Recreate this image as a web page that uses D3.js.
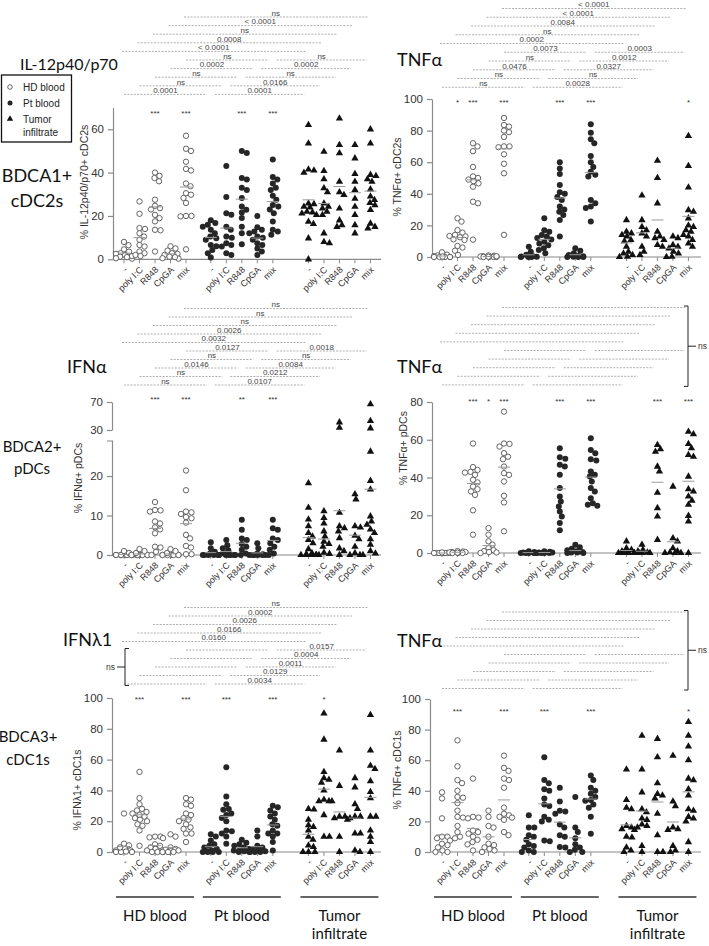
<!DOCTYPE html>
<html><head><meta charset="utf-8">
<script src="https://cdn.jsdelivr.net/npm/d3@7"></script>
<style>body{margin:0;background:#fff}svg{display:block}</style>
</head><body><svg id="c" width="709" height="946"></svg>
<script>
const treatments = ["-", "poly I:C", "R848", "CpGA", "mix"];
const groups = [["HD blood"], ["Pt blood"], ["Tumor", "infiltrate"]];

// ---- IL-12p40/p70 in BDCA1+ cDC2s ----
const il12HD = [[8,6.5,4.6,3.5,2.8,2.5,2,1.2,1,0.5,0.3,1.5],[26.7,21,14.4,14,12,10.5,9,6.6,5.9,3.6,2.8,2,1.5],[40,37.5,38.5,36,27.5,24.7,23.6,23,20.5,19,17.5,13.6,13.4,3.6],[6,5,4,2.8,2.5,2,1.2,0.5,0.3,1],[57,51,50,45,41.7,41,35,33.7,30.5,29.8,28.3,26,20,20,19.8,4.6]];
const il12Pt = [[18,16.7,16,15,13.6,12,10.5,9.7,9,6.6,6,4.3,2.8,0.8],[43,28.7,21.3,20.5,15,13.6,10.5,10,7.4,6.6,5.9,2.8,2],[50,49,37.5,36.8,33,32,28.3,24.4,22.9,21.6,19,15,12,7],[20,14.8,13.6,12.8,12,10.5,10,9,7.4,6.6,5,3.6,2],[46,38,36.8,35,33,32,29.3,27.5,25,24.4,23,21.3,17.5,13.6,12.8,11.3]];
const il12Tu = [[62,53.5,41.5,41,40,25.8,25.5,24.3,24,22,21.7,21.2,20.5,17.4,16.3,9.7,0],[49.7,40.8,37,32.8,31,25.8,24.3,23.5,22,20.5,12,8,7.4],[65,52.8,49,35.8,31,29.7,23.5,18,15.8,15],[52.8,46.6,39.4,35.8,32,28,24.3,20.5,15.8,12],[60,53.5,39,38.5,37,35.8,32.3,29,27.4,26,25,22.8,15,14.3,16.5]];
const il12Ticks = [0, 20, 40, 60];
const il12Stars = [["","","***","","***"],["","","***","","***"],["","","","",""]];
const il12Long = ["ns","< 0.0001","ns","0.0008","< 0.0001"];
const il12PairL = ["ns","0.0002","ns","ns","0.0001"];
const il12PairR = ["ns","0.0002","ns","0.0166","0.0001"];

// ---- TNFa in BDCA1+ cDC2s ----
const tnf1HD = [[3,1.5,1,0.5,0,0,0,0,0,0.3],[24.5,22.4,17,15.4,14,13.3,13,12.5,11.2,10.8,7,6,4,1.3],[72,70,67,57,51,50,49,48,46.6,44.5,35,34,11],[1,0.8,0.5,0.3,0,0,0,0,0.5,0.2],[88,83.5,82.5,80,79,76,70,70,69.5,65,59,53,14]];
const tnf1Pt = [[6.5,3.4,1.5,0.5,0.3,0,0,0,0.2],[24.5,17,16,14,13,12,11,9.7,8.5,7.5,5.5,4.4,2.3],[60,56,52.5,45.5,41,40,38,36,32,30,28.7,26.6,23.4,12.9],[5.5,4,2.3,1.3,0.6,0.2,0,0,0,0.4],[84,78.7,74.5,72,64,60,57,54,52,51,36,34,32,31,22.4]];
const tnf1Tu = [[23.4,16,15,14,13,10.8,10,6.5,3.4,2.3,1.3,0.2,0],[39,23.4,19,17,15,13,6.5,3.4,1.3],[61,50,34,16,13,12,10.8,7.6,6.5],[13,12,7.6,6.5,5.4,3.4,2.3,0.2,0],[76.6,57.6,44,29.7,28.7,24.5,20,19,17,16,14,13,10.8,8.6,6.5]];
const tnf1Ticks = [0, 20, 40, 60, 80, 100];
const tnf1Stars = [["","*","***","","***"],["","","***","","***"],["","","","","*"]];
const tnf1Long = ["< 0.0001","< 0.0001","0.0084","ns","0.0002"];
const tnf1PairL = ["0.0073","ns","0.0476","ns","ns"];
const tnf1PairR = ["0.0003","0.0012","0.0327","ns","0.0028"];

// ---- IFNa in BDCA2+ pDCs ----
const ifnaHD = [[0,0,0,0,0,0,0,0,0.5,1],[0,0,0,0,0,0,0,0,0.5,1,1.5],[13.4,11.4,11.3,11,8.5,8,7,6.5,5.5,2.1,1.9,0.8,0],[0,0,0,0,0,0,0,0.5,1,1.5],[21.4,16.4,11,10.8,10.4,9.6,9.3,8.2,5.1,4.2,2.3,1.9,0.2,0.2]];
const ifnaPt = [[3.2,1.7,0.8,0,0,0,0,0,0,0.3],[3.8,2.5,1.7,1.2,0.4,0,0,0,0,0,0],[8.9,6.4,4.2,3.8,2.8,2.1,1.3,0.4,0,0],[3,1.7,0.4,0,0,0,0,0,0,0.2],[8.9,6.8,6.4,4.2,3.8,3,2.1,1.3,0.4,0]];
const ifnaTu = [[18.2,12,9,7.3,5.6,4.7,3.8,3,1.5,0.5,0.2,0,0,0,0],[11.1,9.4,8,6,4.7,3.4,2.8,2.1,0.6,0.3,0,0],[41,33.3,10.7,7.3,6.8,6,4.3,1.7,1,0],[15.4,14.1,7.3,7,4.9,4,2.1,0.5,0,0,0],[67,42.9,32.4,26.2,18.8,16.6,9.8,8.5,7.7,6.5,5.6,4,2.6,1,0.4]];
const ifnaTicksLow = [0, 10, 20];
const ifnaTicksHigh = [30, 70];
const ifnaStars = [["","","***","","***"],["","","**","","***"],["","","","",""]];
const ifnaLong = ["ns","ns","ns","0.0026","0.0032"];
const ifnaPairL = ["0.0127","ns","0.0146","ns","ns"];
const ifnaPairR = ["0.0018","ns","0.0084","0.0212","0.0107"];

// ---- TNFa in BDCA2+ pDCs ----
const tnf2HD = [[0,0,0,0,0,0,0,0.3],[1,0.8,0.5,0.5,0.3,0,0,0,0.2],[58,45.5,44,43,42.6,41.4,38.8,37.4,35.2,33.8,32.6,30.8,22.6,9.7],[13.2,9.7,6.2,4.4,2.6,1.5,1,0.5,0.3,0],[74.9,58,57.8,56.4,52.9,51,49.7,45.8,42.3,41.4,37.9,30.3,26.8,11.5]];
const tnf2Pt = [[0.9,0.5,0.3,0,0,0,0,0],[0.9,0.6,0.3,0,0,0,0,0.2],[55.5,50.7,50,46.7,45.8,41.4,34.4,30,27.3,24.7,22,19.4,15.9,12],[4.4,3,2.2,1.4,0.9,0.5,0.3,0,0,0.2],[60.8,54.6,52.9,49.7,49,43.2,41.4,40.5,37.9,34.4,32.6,29,26.4,25.6,25]];
const tnf2Tu = [[6.2,2.6,1.7,0.9,0.3,0,0,0,0],[4.4,1.7,0.9,0.3,0,0,0,0],[57.3,55,53.7,45.8,43.2,32,23.8,19.4,7],[35.2,7.9,6.2,2.6,1,0.3,0,0,0],[64.3,63,57.8,55.5,52,51,40.5,33.8,32.6,30,27.8,25.6,19.7,16.7,0]];
const tnf2Ticks = [0, 20, 40, 60, 80];
const tnf2Stars = [["","","***","*","***"],["","","***","","***"],["","","***","","***"]];

// ---- IFNl1 in BDCA3+ cDC1s ----
const ifnlHD = [[25,5.4,4.3,2,1,1,0.5,0,0,0,0.3,3],[52,35,31,28,27,26,25,24,23,22,21,20,18,17,14,4],[10,10,9.5,9,5,4,3,2,1,1,0,0,0],[11.5,10,3,2,1.5,1,0.5,0,0,0],[35,34,31,30,25,24,22,21,20,18,16,15,12,12,6.5]];
const ifnlPt = [[11.5,10,7.5,5,4,3,2,1,0.5,0,0,0,0],[55,36,31,28,27.5,25,24,22,20,14,13.5,12,10,5.4],[8,6,5,4,3,2,1,1,0.5,0,0],[14,10,4,3,2,1,0.5,0,0,0],[30,29,27,25,23,21,18,17,14,12,12,10,6.5,1]];
const ifnlTu = [[28,27.6,21,17.4,16.3,14,10,8,4.3,3.3,0,0,0],[90,73,52,48,47,45,40,34,33,33,33,24,10,10],[66,43,23,23,22,21,10,0],[48,42,31,28,23,23,22,12,12,1,0],[89,66,56,54,46,39,35,23,23,14,10,6.5,0]];
const ifnlTicks = [0, 20, 40, 60, 80, 100];
const ifnlStars = [["","***","","","***"],["","***","","","***"],["","*","","",""]];
const ifnlLong = ["ns","0.0002","0.0026","0.0166","0.0160"];
const ifnlPairL = ["","","","",""];
const ifnlPairR = ["0.0157","0.0004","0.0011","0.0129","0.0034"];

// ---- TNFa in BDCA3+ cDC1s ----
const tnf3HD = [[39,35,22,10,10,9,7.5,5.4,4.5,3,1,0,0],[73,56,47,45,40,36,35.5,32,27,23,22.5,17,13,10,9],[48,23,22.5,22,14,13,12,10,8,6.5,5,1],[27,23,17,16,10,5.4,4.5,3,2,1,0],[63,55,53,48,47,42,29,25,24,23,22.5,21,13,11]];
const tnf3Pt = [[24,16,16,11,10,8,5,4,3,1,0,0],[62,47,45,41,40,35,31,30,23,21,20,7.5,7],[42,33,27,26.5,25,18,16,11,10,3,3.3],[36,16,13,9,5,3,1.5,0,0],[50,47,42,40,38,36,34,33.5,31,29,23,12]];
const tnf3Tu = [[54,34,29,28,17,16,15,14.5,10,9.5,3,1,0],[76,54,39,28,26,22,21,18,17,16,4,0],[74,62,45,38,37,35,25,11,0,0],[63,33,30,16,15,14.5,4,1,0],[85,76,69,60,48,47,41,37,28,27,23,22,20,6.5,0]];
const tnf3Ticks = [0, 20, 40, 60, 80, 100];
const tnf3Stars = [["","***","","","***"],["","***","","","***"],["","","","","*"]];

const blank5 = ["","","","",""];

// ================= drawing =================
const svg = d3.select("#c");
const FONT = "'Liberation Sans', Arial, sans-serif";
const TFONT = "Lato, 'Open Sans', sans-serif";
const colPos = [[0,1,2,3,4],[5.6,6.6,7.6,8.6,9.6],[11.9,12.9,13.9,14.9,15.9]];

const ifnaLow = d3.scaleLinear().domain([0, 29]).range([555, 440.5]);
const ifnaHigh = d3.scaleLinear().domain([30, 70]).range([430, 402]);

const panels = [
  {data:[il12HD, il12Pt, il12Tu], x0:124, axisX:113, axisEnd:381, yBase:259.3,
   scales:[{s:d3.scaleLinear().domain([0,70]).range([259.3,107.6]), ticks:il12Ticks, outer:0}],
   stars:il12Stars, starY:111, rowTop:17, rowStep:8.6,
   long:il12Long, pairL:il12PairL, pairR:il12PairR, bracket:null,
   title:{t:"IL-12p40/p70", x:20, y:70, size:16},
   ylab:{t:"% IL-12p40/p70+ cDC2s", x:88, y:182}},
  {data:[tnf1HD, tnf1Pt, tnf1Tu], x0:442, axisX:432, axisEnd:701, yBase:257,
   scales:[{s:d3.scaleLinear().domain([0,100]).range([257,99]), ticks:tnf1Ticks, outer:0}],
   stars:tnf1Stars, starY:100, rowTop:8.5, rowStep:8.75,
   long:tnf1Long, pairL:tnf1PairL, pairR:tnf1PairR, bracket:null,
   title:{t:"TNFα", x:397, y:66, size:18},
   ylab:{t:"% TNFα+ cDC2s", x:401, y:177}},
  {data:[ifnaHD, ifnaPt, ifnaTu], x0:124, axisX:112, axisEnd:381, yBase:555,
   scales:[{s:ifnaLow, ticks:ifnaTicksLow, outer:5}, {s:ifnaHigh, ticks:ifnaTicksHigh, outer:0}],
   yfun: v => v <= 29 ? ifnaLow(v) : ifnaHigh(v),
   stars:ifnaStars, starY:397, rowTop:308.5, rowStep:8.5,
   long:ifnaLong, pairL:ifnaPairL, pairR:ifnaPairR, bracket:null,
   title:{t:"IFNα", x:67, y:373, size:18},
   ylab:{t:"% IFNα+ pDCs", x:82, y:478}},
  {data:[tnf2HD, tnf2Pt, tnf2Tu], x0:442, axisX:432, axisEnd:701, yBase:553,
   scales:[{s:d3.scaleLinear().domain([0,80]).range([553,402]), ticks:tnf2Ticks, outer:0}],
   stars:tnf2Stars, starY:399, rowTop:307.5, rowStep:8.6,
   long:blank5, pairL:blank5, pairR:blank5, bracket:{side:"R", x:688, from:0, to:9},
   title:{t:"TNFα", x:397, y:373, size:18},
   ylab:{t:"% TNFα+ pDCs", x:407, y:448}},
  {data:[ifnlHD, ifnlPt, ifnlTu], x0:124, axisX:112, axisEnd:381, yBase:852,
   scales:[{s:d3.scaleLinear().domain([0,100]).range([852,698]), ticks:ifnlTicks, outer:0}],
   stars:ifnlStars, starY:697, rowTop:607.5, rowStep:8.5,
   long:ifnlLong, pairL:ifnlPairL, pairR:ifnlPairR, bracket:{side:"L", x:125, from:5, to:9},
   title:{t:"IFNλ1", x:63, y:646, size:18},
   ylab:{t:"% IFNλ1+ cDC1s", x:81, y:790}},
  {data:[tnf3HD, tnf3Pt, tnf3Tu], x0:442, axisX:430, axisEnd:701, yBase:852,
   scales:[{s:d3.scaleLinear().domain([0,100]).range([852,699]), ticks:tnf3Ticks, outer:0}],
   stars:tnf3Stars, starY:709, rowTop:612, rowStep:8.5,
   long:blank5, pairL:blank5, pairR:blank5, bracket:{side:"R", x:688, from:0, to:9},
   title:{t:"TNFα", x:397, y:647, size:18},
   ylab:{t:"% TNFα+ cDC1s", x:401, y:770}}
];

function swarm(vals, yf, r, maxOff) {
  const pts = vals.map(v => ({v, y: yf(v), dx: 0}));
  const order = pts.slice().sort((a, b) => b.v - a.v);
  const placed = [];
  const cands = [0];
  for (let s = 0.5; s <= maxOff; s += 0.5) cands.push(s, -s);
  for (const p of order) {
    let best = 0, bestCost = Infinity;
    for (const c of cands) {
      let cost = Math.abs(c) * 0.02;
      for (const q of placed) {
        const d = Math.hypot(c - q.dx, p.y - q.y);
        if (d < 2 * r) cost += 2 * r - d;
      }
      if (cost < bestCost - 1e-9) { bestCost = cost; best = c; }
    }
    p.dx = best; placed.push(p);
  }
  return pts;
}

const tri = d3.symbol().type(d3.symbolTriangle).size(23);

panels.forEach((P, pi) => {
  const g = svg.append("g");
  const yf = P.yfun || P.scales[0].s;
  const xs = d3.scaleLinear().domain([0, 15.9]).range([P.x0, P.x0 + 15.9 * 15.5]);
  const colX = (gi, ti) => xs(colPos[gi][ti]);

  // y axes
  P.scales.forEach(sc => {
    const ax = g.append("g").attr("transform", `translate(${P.axisX},0)`)
      .call(d3.axisLeft(sc.s).tickValues(sc.ticks).tickSize(5).tickSizeOuter(sc.outer).tickPadding(4).tickFormat(d3.format("d")));
    ax.select(".domain").attr("stroke", "#8a8a8a").attr("stroke-width", 1.2);
    ax.selectAll(".tick line").attr("stroke", "#8a8a8a").attr("stroke-width", 1.2);
    ax.selectAll(".tick text").attr("font-family", FONT).attr("font-size", 11.5).attr("fill", "#333");
  });
  // x axis
  g.append("line").attr("x1", P.axisX).attr("x2", P.axisEnd).attr("y1", P.yBase).attr("y2", P.yBase)
    .attr("stroke", "#8a8a8a").attr("stroke-width", 1.2);
  for (let gi = 0; gi < 3; gi++) for (let ti = 0; ti < 5; ti++) {
    const x = colX(gi, ti);
    g.append("line").attr("x1", x).attr("x2", x).attr("y1", P.yBase).attr("y2", P.yBase + 4)
      .attr("stroke", "#8a8a8a").attr("stroke-width", 1);
    g.append("text").attr("transform", `translate(${x + 4},${P.yBase + 11}) rotate(-45)`)
      .attr("text-anchor", "end").attr("font-family", FONT).attr("font-size", 9).attr("fill", "#333")
      .text(treatments[ti]);
  }

  // points
  for (let gi = 0; gi < 3; gi++) for (let ti = 0; ti < 5; ti++) {
    const vals = P.data[gi][ti];
    const cx = colX(gi, ti);
    const pts = swarm(vals, yf, 2.6, 8);
    pts.forEach(p => {
      if (gi === 0) {
        g.append("circle").attr("cx", cx + p.dx).attr("cy", p.y).attr("r", 2.7)
          .attr("fill", "#fff").attr("stroke", "#555").attr("stroke-width", 0.9);
      } else if (gi === 1) {
        g.append("circle").attr("cx", cx + p.dx).attr("cy", p.y).attr("r", 3)
          .attr("fill", "#262626");
      } else {
        g.append("path").attr("d", tri).attr("transform", `translate(${cx + p.dx},${p.y})`)
          .attr("fill", "#111");
      }
    });
    const m = d3.mean(vals);
    g.append("line").attr("x1", cx - 6).attr("x2", cx + 6).attr("y1", yf(m)).attr("y2", yf(m))
      .attr("stroke", "#999").attr("stroke-width", 1);
    const st = P.stars[gi][ti];
    if (st) g.append("text").attr("x", cx).attr("y", P.starY + 4.5).attr("text-anchor", "middle")
      .attr("font-family", FONT).attr("font-size", 8).attr("fill", "#333").text(st);
  }

  // comparison rows
  const rowY = i => P.rowTop + i * P.rowStep;
  function dashed(x1, x2, y, lbl) {
    g.append("line").attr("x1", x1).attr("x2", x2).attr("y1", y).attr("y2", y)
      .attr("stroke", "#8c8c8c").attr("stroke-width", 0.7).attr("stroke-dasharray", "2,1.3");
    if (lbl) g.append("text").attr("x", (x1 + x2) / 2).attr("y", y - 1.2).attr("text-anchor", "middle")
      .attr("font-family", FONT).attr("font-size", 8).attr("fill", "#444").text(lbl);
  }
  for (let k = 0; k < 5; k++) {
    const ti = 4 - k;
    dashed(colX(0, ti) - 2, colX(2, ti) - 3, rowY(k), P.long[k]);
  }
  for (let k = 0; k < 5; k++) {
    const ti = 4 - k;
    const y = rowY(k + 5);
    dashed(colX(0, ti), colX(1, ti) - 4, y, P.pairL[k]);
    dashed(colX(1, ti) + 4, colX(2, ti) - 4, y, P.pairR[k]);
  }
  if (P.bracket) {
    const B = P.bracket;
    const y1 = rowY(B.from) - 1.5, y2 = rowY(B.to) + 1.5, ym = (y1 + y2) / 2;
    const d = B.side === "R" ? -4 : 4;
    g.append("path").attr("d", `M${B.x + d},${y1}H${B.x}V${y2}H${B.x + d}M${B.x},${ym}H${B.x - d * 2}`)
      .attr("fill", "none").attr("stroke", "#222").attr("stroke-width", 1);
    g.append("text").attr("x", B.side === "R" ? B.x + 10 : B.x - 10).attr("y", ym + 3)
      .attr("text-anchor", B.side === "R" ? "start" : "end")
      .attr("font-family", FONT).attr("font-size", 8.5).attr("fill", "#333").text("ns");
  }

  // titles
  g.append("text").attr("x", P.title.x).attr("y", P.title.y).attr("font-family", TFONT)
    .attr("font-size", P.title.size).attr("fill", "#111").text(P.title.t);
  g.append("text").attr("transform", `translate(${P.ylab.x},${P.ylab.y}) rotate(-90)`)
    .attr("text-anchor", "middle").attr("font-family", FONT).attr("font-size", 10.5).attr("fill", "#333")
    .text(P.ylab.t);

  // group underline labels for bottom row
  if (pi >= 4) {
    for (let gi = 0; gi < 3; gi++) {
      const a = colX(gi, 0) - 8, b = colX(gi, 4) + 8;
      g.append("line").attr("x1", a).attr("x2", b).attr("y1", 897).attr("y2", 897)
        .attr("stroke", "#333").attr("stroke-width", 1.3);
      groups[gi].forEach((t, li) => {
        g.append("text").attr("x", (a + b) / 2).attr("y", 921 + li * 18).attr("text-anchor", "middle")
          .attr("font-family", TFONT).attr("font-size", 15).attr("fill", "#111").text(t);
      });
    }
  }
});

// row labels
const rowLabels = [
  {lines:["BDCA1+", "cDC2s"], x:37, y:[182, 207], size:18},
  {lines:["BDCA2+", "pDCs"], x:32, y:[452, 474], size:15},
  {lines:["BDCA3+", "cDC1s"], x:28, y:[742, 765], size:15}
];
rowLabels.forEach(R => R.lines.forEach((t, i) => {
  svg.append("text").attr("x", R.x).attr("y", R.y[i]).attr("text-anchor", "middle")
    .attr("font-family", TFONT).attr("font-size", R.size).attr("fill", "#111").text(t);
}));

// legend
const leg = svg.append("g");
leg.append("rect").attr("x", 1.5).attr("y", 75).attr("width", 70).attr("height", 67)
  .attr("fill", "#fff").attr("stroke", "#111").attr("stroke-width", 1.3);
const legItems = [{t:["HD blood"], y:88}, {t:["Pt blood"], y:104}, {t:["Tumor", "infiltrate"], y:120}];
legItems.forEach((L, i) => {
  if (i === 0) leg.append("circle").attr("cx", 10).attr("cy", L.y - 1).attr("r", 2.3).attr("fill", "#fff").attr("stroke", "#555").attr("stroke-width", 0.9);
  else if (i === 1) leg.append("circle").attr("cx", 10).attr("cy", L.y - 1).attr("r", 2.5).attr("fill", "#262626");
  else leg.append("path").attr("d", d3.symbol().type(d3.symbolTriangle).size(18)).attr("transform", `translate(10,${L.y - 1})`).attr("fill", "#111");
  L.t.forEach((t, j) => leg.append("text").attr("x", 23).attr("y", L.y + 3 + j * 12.5)
    .attr("font-family", FONT).attr("font-size", 10).attr("fill", "#222").text(t));
});
</script>
</body></html>
